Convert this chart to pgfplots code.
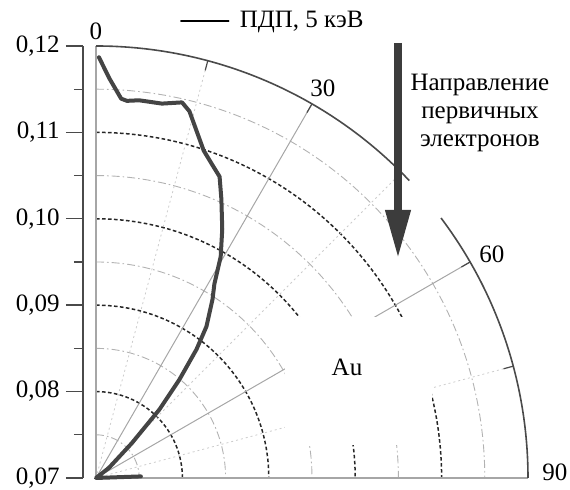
\documentclass[border=0pt]{standalone}
\usepackage{pgfplots}
\usepackage{pgfplotstable}
\pgfplotsset{compat=1.18}
\usetikzlibrary{arrows.meta}
\usepackage{fontspec}
\setmainfont{Liberation Serif}

\definecolor{curvecol}{HTML}{444444}
\definecolor{arrowcol}{HTML}{3C3C3C}
\definecolor{framecol}{HTML}{4A4A4A}

\pgfdeclarelayer{bg}
\pgfsetlayers{bg,main}

% angular yield: angle from the beam axis (deg) and value on the radial scale
% (0.07 at the centre, 0.12 on the rim)
\pgfplotstableread{
ang   val
0.4   0.1187
1.9   0.1163
3.8   0.1140
4.7   0.1138
6.5   0.1140
10.0  0.1140
12.9  0.1146
14.3  0.1138
16.9  0.1111
18.2  0.1099
20.5  0.1086
22.3  0.1077
24.2  0.1054
26.9  0.1023
29.4  0.0994
31.4  0.0963
33.1  0.0947
36.1  0.0917
38.0  0.0889
40.3  0.0849
42.8  0.0808
45.8  0.0758
52.0  0.0719
60.0  0.0700
88.0  0.0752
}\yielddata

\begin{document}
\fontsize{12.5}{15}\selectfont
\begin{tikzpicture}[
  minorarc/.style={gray!60, line width=0.45pt, dash pattern=on 4pt off 1.5pt on 0.8pt off 1.5pt},
  majorarc/.style={gray!30!black, line width=0.75pt, dash pattern=on 1.8pt off 1.2pt},
  spoke/.style={gray!70, line width=0.5pt},
  minorspoke/.style={gray!40, line width=0.4pt, dash pattern=on 1pt off 1.5pt}]

% the curve: polar (angle from the vertical, value above 0.07) to the plane
\begin{axis}[
  scale only axis, width=216pt, height=216pt,
  xmin=0, xmax=0.05, ymin=0, ymax=0.05,
  hide axis, clip=false,
  legend style={draw=none, fill=none, inner sep=0pt,
    at={(axis description cs:0.194,1.058)}, anchor=west,
    font=\fontsize{12.5}{15}\selectfont},
  legend image code/.code={\draw[black, line width=0.6pt] (0pt,0pt) -- (24pt,0pt); \path (26.5pt,0pt);},
]
\coordinate (C) at (axis cs:0,0);
\addplot[no markers, color=curvecol, line width=2pt, line join=round, line cap=round]
  table[x expr={(\thisrow{val}-0.07)*sin(\thisrow{ang})},
        y expr={(\thisrow{val}-0.07)*cos(\thisrow{ang})}] {\yielddata};
\addlegendentry{ПДП, 5 кэВ}
\end{axis}

% everything else, in units of half a point around the centre C
\begin{scope}[shift={(C)}, x=0.5pt, y=0.5pt]
\begin{scope}[shift={(-96,478)}]

\begin{pgfonlayer}{bg}
% radial scale on the left
\draw[framecol, line width=0.7pt] (83,-478) -- (83,-46);
\foreach \k/\lab in {0/{0,07},1/{0,08},2/{0,09},3/{0,10},4/{0,11},5/{0,12}} {
  \draw[framecol, line width=0.7pt] (66,-478+\k*86.4) -- (83,-478+\k*86.4);
  \node[anchor=east, inner sep=0pt] at (60,-478+\k*86.4) {\lab};
}
\foreach \k in {0,...,4}
  \draw[framecol, line width=0.6pt] (74,-478+\k*86.4+43.2) -- (83,-478+\k*86.4+43.2);

\begin{scope}[shift={(96,-478)}]
  % circular grid
  \foreach \k in {1,3,5,7,9}
    \draw[minorarc] (0,\k*43.2) arc[start angle=90, end angle=0, radius=\k*21.6pt];
  \foreach \k in {2,4,6,8}
    \draw[majorarc] (0,\k*43.2) arc[start angle=90, end angle=0, radius=\k*21.6pt];
  % angular grid
  \foreach \a in {15,45,75}
    \draw[minorspoke] (0,0) -- (90-\a:216pt);
  \foreach \a in {30,60}
    \draw[spoke] (0,0) -- (90-\a:216pt);
  % blank field for the label
  \fill[white] (189,33) rectangle (336,161);
  \node at (251,111) {Au};
  % frame
  \draw[gray!70, line width=0.6pt] (0,432) -- (0,0) -- (432,0);
  \draw[framecol, line width=0.8pt] (0,432) arc[start angle=90, end angle=43.5, radius=216pt];
  \draw[framecol, line width=0.8pt] (37:216pt) arc[start angle=37, end angle=0, radius=216pt];
  \foreach \a in {15,30,45,60,75}
    \draw[framecol, line width=0.6pt] (90-\a:216pt) -- (90-\a:211pt);
\end{scope}

% angle labels
\node at (96,-31) {0};
\node at (323,-88) {30};
\node at (492,-254) {60};
\node at (555,-472) {90};
\end{pgfonlayer}

% direction of the primary beam
\draw[arrowcol, line width=3.6pt, -{Triangle[length=24pt, width=12pt]}] (398,-43) -- (398,-258);
\node[align=center, inner sep=0pt] at (480,-113) {Направление\\[-1pt]первичных\\[-1pt]электронов};

% page frame
\pgfresetboundingbox
\path[use as bounding box] (0,0) rectangle (570,-490);
\end{scope}
\end{scope}
\end{tikzpicture}
\end{document}
